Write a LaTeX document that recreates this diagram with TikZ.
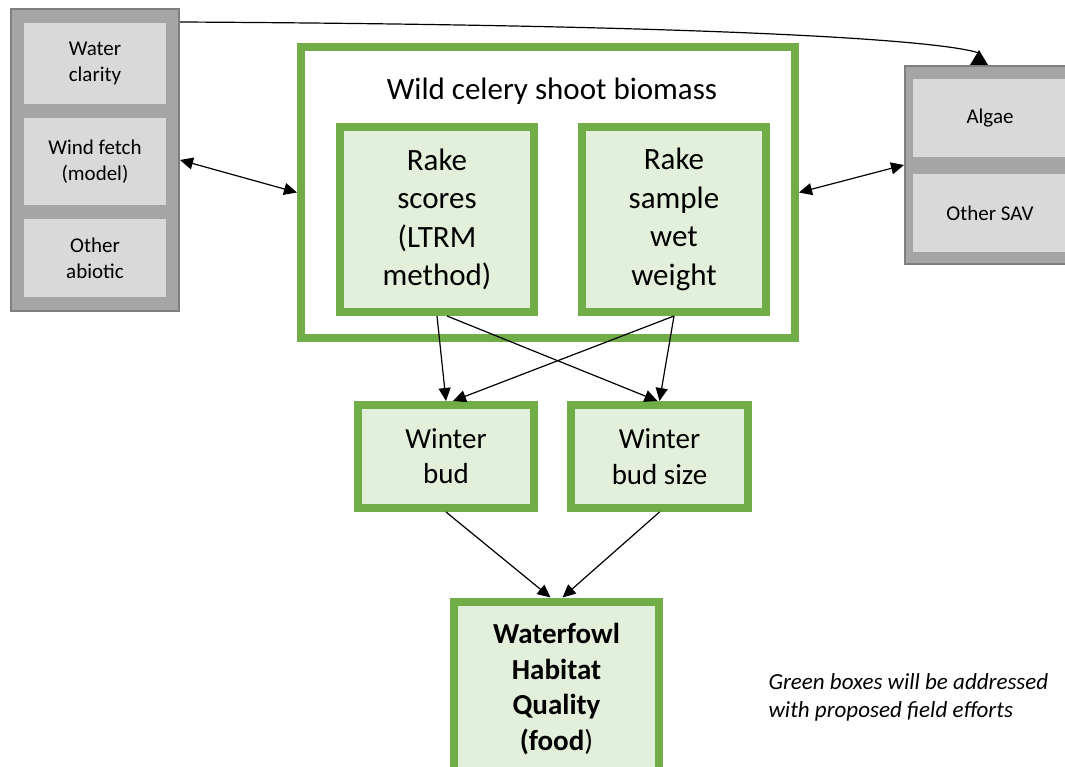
\documentclass[tikz,border=0pt]{standalone}
\usepackage{fontspec}
\setmainfont{Carlito}
\usepackage{tikz}
\usetikzlibrary{positioning,arrows.meta,calc}
\definecolor{grnline}{HTML}{70AD47}
\definecolor{grnfill}{HTML}{E2EFDA}
\definecolor{grpline}{HTML}{7F7F7F}
\definecolor{grpfill}{HTML}{A5A5A5}
\definecolor{itmfill}{HTML}{D9D9D9}

\begin{document}
\begin{tikzpicture}[x=1pt,y=-1pt,
  grnbox/.style={draw=grnline, fill=grnfill, line width=8pt, align=center, inner sep=0pt},
  grpbox/.style={draw=grpline, fill=grpfill, line width=2pt, inner sep=0pt},
  itmbox/.style={fill=itmfill, minimum width=142pt, align=center, inner sep=0pt,
                 font=\fontsize{21}{26}\selectfont},
  arr/.style={-{Triangle[length=13pt,width=12pt]}, line width=1.2pt},
  dbl/.style={{Triangle[length=13pt,width=12pt]}-{Triangle[length=13pt,width=12pt]}, line width=1.2pt}]

\useasboundingbox (0,0) rectangle (1065,767);

% grey groups
\node[grpbox, minimum width=168pt, minimum height=302pt] (lgrp) at ( 95,160) {};
\node[itmbox, minimum height=81pt] (clar) at (95, 63.5) {Water\\clarity};
\node[itmbox, minimum height=87pt] (wind) at (95,161.5) {Wind fetch\\(model)};
\node[itmbox, minimum height=78pt] (abio) at (95,258)   {Other\\abiotic};

\node[grpbox, minimum width=170pt, minimum height=198pt] (rgrp) at (990,165) {};
\node[itmbox, minimum width=154pt, minimum height=78pt] (alga) at (990,118) {Algae};
\node[itmbox, minimum width=154pt, minimum height=78pt] (osav) at (990,213) {Other SAV};

% green boxes
\node[draw=grnline, fill=white, line width=8pt, minimum width=494pt, minimum height=291pt] (big) at (548,192.5) {};
\node[font=\fontsize{31}{38}\selectfont] (title) at (552,91) {Wild celery shoot biomass};

\node[grnbox, minimum width=194pt, minimum height=185pt, font=\fontsize{31}{38.5}\selectfont]
  (rakeS) at (437,219.5) {Rake\\scores\\(LTRM\\method)};
\node[grnbox, minimum width=184pt, minimum height=185pt, font=\fontsize{31}{38.5}\selectfont]
  (rakeW) at (674,219.5) {Rake\\sample\\wet\\weight};

\node[grnbox, minimum width=176pt, minimum height=103pt, font=\fontsize{29}{35}\selectfont]
  (budA) at (446,456.5) {Winter\\bud};
\node[grnbox, minimum width=177pt, minimum height=103pt, font=\fontsize{29}{36}\selectfont]
  (budB) at (659.5,456.5) {Winter\\bud size};

\node[grnbox, minimum width=205pt, minimum height=175pt, font=\fontsize{29}{35.5}\selectfont\bfseries]
  (fowl) at (556.5,689) {Waterfowl\\Habitat\\Quality\\(food\textmd{)}};

\node[anchor=west, align=left, font=\fontsize{23}{28}\selectfont\itshape]
  (note) at (765,697) {Green boxes will be addressed\\with proposed field efforts};

% connectors
\draw[dbl] (lgrp.east) -- (big.west);
\draw[dbl] (big.east)  -- (rgrp.west);

\draw[line width=1.2pt] ([yshift=-14pt]lgrp.north east) .. controls (720,25) and (940,40) .. ([xshift=-11pt,yshift=12pt]rgrp.north);
\fill ([xshift=-11pt,yshift=15pt]rgrp.north) -- ++(-9,15) -- ++(18,0) -- cycle;

\draw[arr] (rakeS.south)               -- (budA.north);
\draw[arr] ([xshift=10pt]rakeS.south)  -- ([xshift=-2pt]budB.north);
\draw[arr] (rakeW.south)               -- ([xshift=7pt]budA.north);
\draw[arr] (rakeW.south)               -- (budB.north);

\draw[arr] (budA.south) -- ([xshift=-6pt]fowl.north);
\draw[arr] (budB.south) -- ([xshift=6pt]fowl.north);

\end{tikzpicture}
\end{document}
